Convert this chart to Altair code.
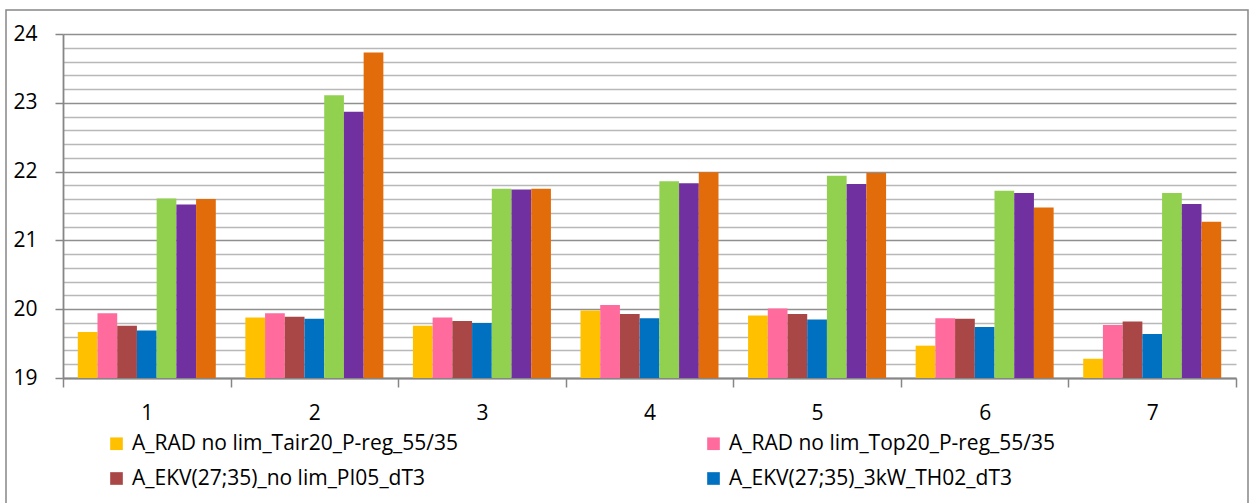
import altair as alt
import pandas as pd

# Categories on the x axis
groups = ["1", "2", "3", "4", "5", "6", "7"]

# Series names (legend order) and their fill colours
series = [
    "A_RAD no lim_Tair20_P-reg_55/35",
    "A_RAD no lim_Top20_P-reg_55/35",
    "A_EKV(27;35)_no lim_PI05_dT3",
    "A_EKV(27;35)_3kW_TH02_dT3",
    "Series 5",
    "Series 6",
    "Series 7",
]
colors = ["#FFC000", "#FF6B9D", "#A94646", "#0070C0", "#92D050", "#7030A0", "#E36C0A"]

# Values per series, one per category
rad_tair = [19.67, 19.88, 19.76, 19.98, 19.91, 19.47, 19.28]
rad_top = [19.94, 19.94, 19.88, 20.06, 20.01, 19.87, 19.77]
ekv_pi05 = [19.76, 19.89, 19.83, 19.93, 19.93, 19.86, 19.82]
ekv_th02 = [19.69, 19.86, 19.80, 19.87, 19.85, 19.74, 19.64]
series5 = [21.61, 23.11, 21.75, 21.86, 21.94, 21.72, 21.69]
series6 = [21.52, 22.87, 21.74, 21.83, 21.82, 21.69, 21.53]
series7 = [21.60, 23.73, 21.75, 21.99, 21.98, 21.48, 21.27]

# Axis range and tick values
y_min, y_max = 19, 24
y_ticks = [round(y_min + 0.2 * i, 1) for i in range(26)]

all_values = [rad_tair, rad_top, ekv_pi05, ekv_th02, series5, series6, series7]
rows = []
for name, vals in zip(series, all_values):
    for g, v in zip(groups, vals):
        rows.append({"group": g, "series": name, "value": v})
df = pd.DataFrame(rows)

FONT = "Open Sans"
FS = 21
AXIS_GRAY = "#868686"
is_int = "abs(datum.value - round(datum.value)) < 0.01"

bars = alt.Chart(df).mark_bar().encode(
    x=alt.X(
        "group:N",
        sort=groups,
        scale=alt.Scale(paddingInner=0, paddingOuter=0),
        axis=alt.Axis(
            title=None,
            labelAngle=0,
            labelFont=FONT,
            labelFontSize=FS,
            labelColor="#000000",
            labelPadding=15,
            tickBand="extent",
            tickSize=9,
            tickColor=AXIS_GRAY,
            tickWidth=1.5,
            domainColor=AXIS_GRAY,
            domainWidth=1.8,
            grid=False,
        ),
    ),
    xOffset=alt.XOffset(
        "series:N",
        sort=series,
        scale=alt.Scale(paddingInner=0, paddingOuter=0.75),
    ),
    y=alt.Y(
        "value:Q",
        scale=alt.Scale(domain=[y_min, y_max], zero=False, nice=False),
        axis=alt.Axis(
            title=None,
            values=y_ticks,
            labelExpr=f"{is_int} ? format(datum.value, '.0f') : ''",
            labelOverlap=False,
            labelFont=FONT,
            labelFontSize=FS,
            labelColor="#000000",
            labelPadding=18,
            tickSize=8,
            tickColor=AXIS_GRAY,
            tickWidth=1.5,
            tickOpacity={"condition": {"test": is_int, "value": 1}, "value": 0},
            domainColor=AXIS_GRAY,
            domainWidth=1.8,
            grid=True,
            gridColor={"condition": {"test": is_int, "value": "#8f8f8f"}, "value": "#b8b8b8"},
            gridWidth=1.6,
        ),
    ),
    y2=alt.datum(y_min),
    color=alt.Color(
        "series:N",
        sort=series,
        scale=alt.Scale(domain=series, range=colors),
        legend=alt.Legend(
            title=None,
            values=series[:4],
            orient="none",
            legendX=43,
            legendY=399,
            direction="horizontal",
            columns=2,
            columnPadding=244,
            rowPadding=13,
            padding=0,
            symbolType="square",
            symbolSize=160,
            symbolStrokeWidth=0,
            labelFont=FONT,
            labelFontSize=FS,
            labelColor="#000000",
            labelOffset=5,
            labelLimit=800,
        ),
    ),
)

# Outer frame around the whole chart
frame = alt.Chart(pd.DataFrame({"k": [0]})).mark_rect(
    fill="transparent", stroke=AXIS_GRAY, strokeWidth=1.5, clip=False
).encode(
    x=alt.value(-57),
    x2=alt.value(1185),
    y=alt.value(-24),
    y2=alt.value(520),
)

chart = (
    alt.layer(frame, bars)
    .properties(
        width=1173,
        height=344,
        autosize=alt.AutoSizeParams(type="none"),
        padding={"left": 63, "top": 34, "right": 15, "bottom": 125},
        background="#ffffff",
    )
    .configure_view(strokeOpacity=0)
)

chart.save("out.html", embed_options={"renderer": "svg", "actions": False})
